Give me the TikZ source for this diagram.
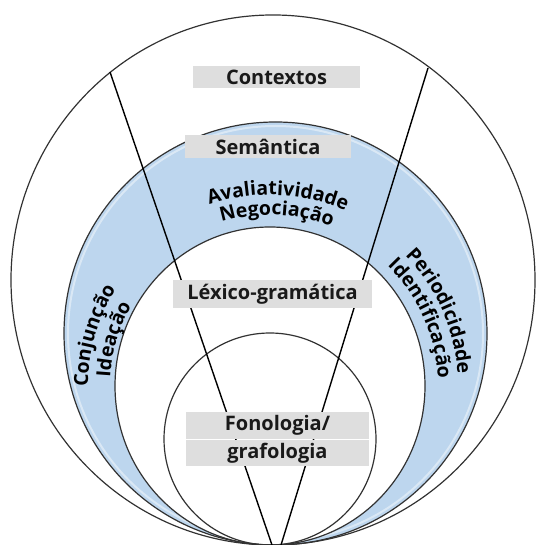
\documentclass[tikz,border=0pt]{standalone}
\usepackage{fontspec}
\setmainfont{Open Sans}
\usetikzlibrary{decorations.text}
\definecolor{ringblue}{RGB}{189,214,238}
\definecolor{boxgray}{RGB}{222,222,222}
\definecolor{circline}{RGB}{50,50,50}
\newcommand\lblfont{\fontsize{20}{22}\selectfont\bfseries}
\newcommand\ringfont{\fontsize{19.5}{21}\selectfont\bfseries}
\tikzset{
  circ/.style={draw=circline, line width=1.2pt},
  ray/.style={draw=black, line width=1.4pt},
  lbox/.style={fill=boxgray, inner sep=0pt, font=\lblfont, text=black!90},
  ringtext/.style={decorate, decoration={text along path, text align=center, text={|\ringfont|#1}}}
}
\begin{document}
\begin{tikzpicture}[x=1pt,y=1pt]
\useasboundingbox (0,0) rectangle (535,545);
% blue ring
\fill[ringblue, even odd rule] (275.5,211.5) circle[radius=211.5] (270,159) ellipse[x radius=155, y radius=159];
\draw[white, opacity=0.45, line width=2pt] (275.5,211.5) circle[radius=207.5];
% circles
\draw[circ] (273,265) ellipse[x radius=262, y radius=265];
\draw[circ] (275.5,211.5) circle[radius=211.5];
\draw[circ] (270,159) ellipse[x radius=155, y radius=159];
\draw[circ] (270,106) circle[radius=106];
% rays
\coordinate (C) at (270,159);
\coordinate (LT) at (110,473);
\coordinate (LB) at (272,0);
\coordinate (RT) at (428,477);
\coordinate (RB) at (281,0);
\draw[ray] (LT) -- (LB);
\draw[ray] (RT) -- (RB);
% boxes
\node[lbox, minimum width=167pt, minimum height=22pt] (ctx) at (276.5,468) {Contextos};
\node[lbox, minimum width=166pt, minimum height=23pt] (sem) at (268,398.5) {Semântica};
\node[lbox, minimum width=199pt, minimum height=28pt] (lex) at (272.5,251) {Léxico-gramática};
\node[lbox, minimum width=183pt, minimum height=27pt] (fon) at (277.5,119.5) {Fonologia/};
\node[lbox, minimum width=183pt, minimum height=26pt] (gra) at (277.5,92) {grafologia};
% ring texts
\path[ringtext=Avaliatividade, shift={(C)}] (127.6:191) arc[start angle=127.6, end angle=47.6, radius=191];
\path[ringtext=Negociação, shift={(C)}] (127.7:171) arc[start angle=127.7, end angle=47.7, radius=171];
\path[ringtext=Conjunção, shift={(C)}] (204:182) arc[start angle=204, end angle=124, radius=182];
\path[ringtext=Ideação, shift={(C)}] (203.4:160) arc[start angle=203.4, end angle=123.4, radius=160];
\path[ringtext=Periodicidade, shift={(C)}] (63.8:188) arc[start angle=63.8, end angle=-16.2, radius=188];
\path[ringtext=Identificação, shift={(C)}] (64.1:168) arc[start angle=64.1, end angle=-15.9, radius=168];
\end{tikzpicture}
\end{document}
